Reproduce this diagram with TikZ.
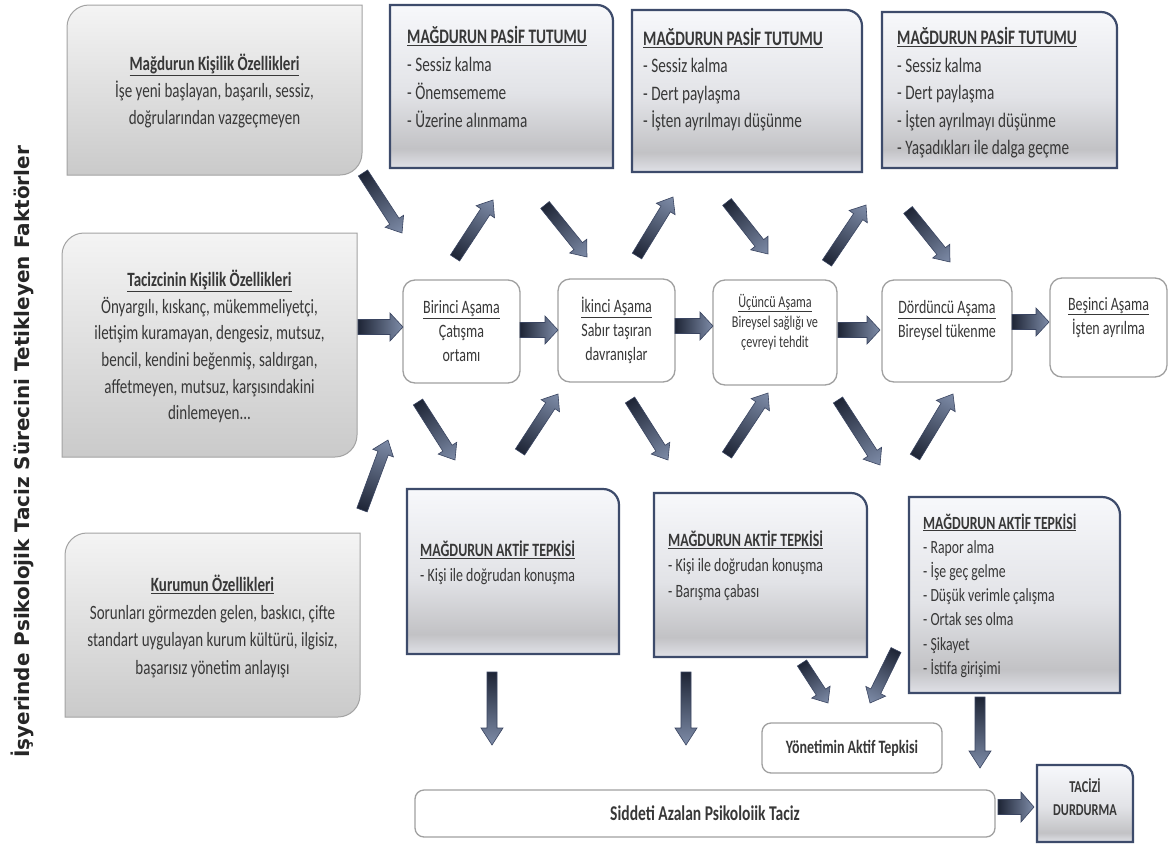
\documentclass[tikz,border=0pt]{standalone}
\usepackage{fontspec}
\setmainfont{Carlito}[FakeStretch=0.74]
\newfontfamily\sidefont{DejaVu Sans}
\usetikzlibrary{calc}

\definecolor{txt}{HTML}{383838}
\definecolor{grayedge}{HTML}{A3A3A3}
\definecolor{graytop}{HTML}{F4F4F4}
\definecolor{graybot}{HTML}{CACACA}
\definecolor{navyedge}{HTML}{3D4B6B}
\definecolor{pantop}{HTML}{F7F8FB}
\definecolor{panmid}{HTML}{E2E3E7}
\definecolor{panband}{HTML}{C2C2C5}
\definecolor{panbot}{HTML}{E0E1E7}
\definecolor{stageedge}{HTML}{A0A0A0}
\definecolor{arrdark}{HTML}{1E2536}
\definecolor{arrlight}{HTML}{7E8CA8}
\definecolor{arredge}{HTML}{3A4561}

% vertical fill of the navy-edged panels: light top, darker band near the bottom
\pgfdeclareverticalshading{panelshade}{100bp}{color(0bp)=(panbot); color(25bp)=(panbot); color(31bp)=(panband); color(48bp)=(panmid); color(75bp)=(pantop); color(100bp)=(pantop)}

% gray card with rounded top-left and bottom-right corners: x1,y1,x2,y2
\newcommand\graycard[4]{%
  \path[shade,top color=graytop,bottom color=graybot,draw=grayedge,line width=1pt]
    (#1,#4) -- (#1,#2+22) arc[start angle=180,end angle=270,radius=22]
    -- (#3,#2) -- (#3,#4-22) arc[start angle=0,end angle=90,radius=22] -- cycle;}

% navy panel with a rounded top-right corner: x1,y1,x2,y2,radius
\newcommand\navypanel[5]{%
  \path[shade,shading=panelshade,draw=navyedge,line width=2.2pt]
    (#1,#4) -- (#1,#2) -- (#3-#5,#2) arc[start angle=-90,end angle=0,radius=#5]
    -- (#3,#4) -- cycle;}

% shaded block arrow between two named coordinates:
% tail, head, shaft half-width, head half-width, head length (pt)
\newcommand\blockarrow[5]{%
  \pgfpointanchor{#1}{center}\pgfgetlastxy\tailx\taily
  \pgfpointanchor{#2}{center}\pgfgetlastxy\headx\heady
  \pgfmathsetmacro\arrang{atan2((\heady)-(\taily),(\headx)-(\tailx))}%
  \pgfmathsetmacro\arrlen{veclen((\headx)-(\tailx),(\heady)-(\taily))}%
  \begin{scope}[transform canvas={shift={(\tailx,\taily)},rotate=\arrang}]
    \path[shade,left color=arrdark,right color=arrlight,draw=arredge,line width=0.6pt]
      (0pt,-#3pt) -- (\arrlen pt-#5pt,-#3pt) -- (\arrlen pt-#5pt,-#4pt)
      -- (\arrlen pt,0pt) -- (\arrlen pt-#5pt,#4pt) -- (\arrlen pt-#5pt,#3pt)
      -- (0pt,#3pt) -- cycle;
  \end{scope}}

\tikzset{
  cardtext/.style={align=center,inner sep=0pt,text=txt,font=\fontsize{20.3}{27}\selectfont},
  paneltext/.style={anchor=west,align=left,inner sep=0pt,text=txt},
  stagebox/.style={draw=stageedge,line width=1.3pt,rounded corners=12pt,fill=white,
    align=center,text=txt,inner sep=0pt,font=\fontsize{18.9}{24}\selectfont},
}

\begin{document}
\begin{tikzpicture}[x=1pt,y=-1pt]
\useasboundingbox (0,0) rectangle (1173,844);
\fill[white] (0,0) rectangle (1173,844);

% side title
\node[rotate=90,text=black!85,font=\sidefont\bfseries\fontsize{20}{22}\selectfont]
  (sidetitle) at (22,452) {İşyerinde Psikolojik Taciz Sürecini Tetikleyen Faktörler};

% factor cards
\graycard{67}{5}{362}{175}
\node[cardtext] (victim) at (214.5,90.5)
  {\textbf{\underline{Mağdurun Kişilik Özellikleri}}\\İşe yeni başlayan, başarılı, sessiz,\\doğrularından vazgeçmeyen};
\graycard{62}{233}{357}{457}
\node[cardtext,font=\fontsize{20.3}{26.6}\selectfont] (bully) at (209.5,346.5)
  {\textbf{\underline{Tacizcinin Kişilik Özellikleri}}\\Önyargılı, kıskanç, mükemmeliyetçi,\\iletişim kuramayan, dengesiz, mutsuz,\\bencil, kendini beğenmiş, saldırgan,\\affetmeyen, mutsuz, karşısındakini\\dinlemeyen...};
\graycard{65}{533}{360}{717}
\node[cardtext,font=\fontsize{20.3}{27.7}\selectfont] (org) at (212.5,626.5)
  {\textbf{\underline{Kurumun Özellikleri}}\\Sorunları görmezden gelen, baskıcı, çifte\\standart uygulayan kurum kültürü, ilgisiz,\\başarısız yönetim anlayışı};

% passive attitude panels
\navypanel{390}{5}{613}{168}{16}
\node[paneltext,font=\fontsize{20.6}{27.7}\selectfont] (pas1) at (407,77)
  {\textbf{\underline{MAĞDURUN PASİF TUTUMU}}\\- Sessiz kalma\\- Önemsememe\\- Üzerine alınmama};
\navypanel{632}{10}{862}{172}{16}
\node[paneltext,font=\fontsize{20.6}{27.3}\selectfont] (pas2) at (643,79.5)
  {\textbf{\underline{MAĞDURUN PASİF TUTUMU}}\\- Sessiz kalma\\- Dert paylaşma\\- İşten ayrılmayı düşünme};
\navypanel{882}{12}{1117}{168}{16}
\node[paneltext,font=\fontsize{20.6}{27.5}\selectfont] (pas3) at (897,93)
  {\textbf{\underline{MAĞDURUN PASİF TUTUMU}}\\- Sessiz kalma\\- Dert paylaşma\\- İşten ayrılmayı düşünme\\- Yaşadıkları ile dalga geçme};

% stages
\node[stagebox,minimum width=117pt,minimum height=103pt] (s1) at (461.5,331.5)
  {\underline{Birinci Aşama}\\Çatışma\\ortamı};
\node[stagebox,minimum width=117pt,minimum height=103pt] (s2) at (616.5,330.5)
  {\underline{İkinci Aşama}\\Sabır taşıran\\davranışlar};
\node[stagebox,minimum width=124pt,minimum height=105pt,font=\fontsize{16.5}{20}\selectfont] (s3) at (775,332.5)
  {\underline{Üçüncü Aşama}\\Bireysel sağlığı ve\\çevreyi tehdit\\[4pt]};
\node[stagebox,minimum width=130pt,minimum height=102pt] (s4) at (947,331)
  {\underline{Dördüncü Aşama}\\Bireysel tükenme\\ };
\node[stagebox,minimum width=117pt,minimum height=99pt] (s5) at (1108.5,327.5)
  {\underline{Beşinci Aşama}\\İşten ayrılma\\ };

% active response panels
\navypanel{407}{489}{619}{654}{16}
\node[paneltext,font=\fontsize{18.8}{25}\selectfont] (act1) at (420,562.5)
  {\textbf{\underline{MAĞDURUN AKTİF TEPKİSİ}}\\- Kişi ile doğrudan konuşma};
\navypanel{654}{493}{867}{657}{16}
\node[paneltext,font=\fontsize{18.8}{25.5}\selectfont] (act2) at (668,565.5)
  {\textbf{\underline{MAĞDURUN AKTİF TEPKİSİ}}\\- Kişi ile doğrudan konuşma\\- Barışma çabası};
\navypanel{909}{497}{1120}{693}{18}
\node[paneltext,font=\fontsize{18.6}{24.2}\selectfont] (act3) at (923,595.5)
  {\textbf{\underline{MAĞDURUN AKTİF TEPKİSİ}}\\- Rapor alma\\- İşe geç gelme\\- Düşük verimle çalışma\\- Ortak ses olma\\- Şikayet\\- İstifa girişimi};

% outcomes
\node[stagebox,minimum width=180pt,minimum height=50pt,rounded corners=9pt,font=\bfseries\fontsize{18.9}{22}\selectfont] (mgmt) at (852,748)
  {Yönetimin Aktif Tepkisi};
\node[stagebox,minimum width=580pt,minimum height=47pt,rounded corners=9pt,font=\bfseries\fontsize{21}{24}\selectfont] (lessened) at (705,813.5)
  {Siddeti Azalan Psikoloiik Taciz};
\navypanel{1037}{765}{1133}{842}{12}
\node[align=center,inner sep=0pt,text=txt,font=\bfseries\fontsize{16.6}{23}\selectfont] (stop) at (1085,797)
  {TACİZİ\\DURDURMA};

% arrow end points
\coordinate (h0a) at (358,327);  \coordinate (h0b) at (403,327);
\coordinate (h1a) at (520,330);  \coordinate (h1b) at (558,330);
\coordinate (h2a) at (675,326);  \coordinate (h2b) at (713,326);
\coordinate (h3a) at (838,330);  \coordinate (h3b) at (880,330);
\coordinate (h4a) at (1012,322); \coordinate (h4b) at (1049,322);
\coordinate (h5a) at (998,807);  \coordinate (h5b) at (1034,807);

\coordinate (d1a) at (363,173);  \coordinate (d1b) at (402,233);
\coordinate (d2a) at (455,258);  \coordinate (d2b) at (493,200);
\coordinate (d3a) at (545,205);  \coordinate (d3b) at (587,257);
\coordinate (d4a) at (637,256);  \coordinate (d4b) at (673,197);
\coordinate (d5a) at (727,202);  \coordinate (d5b) at (768,254);
\coordinate (d6a) at (827,263);  \coordinate (d6b) at (866,205);
\coordinate (d7a) at (908,210);  \coordinate (d7b) at (950,262);

\coordinate (e1a) at (362,510);  \coordinate (e1b) at (388,440);
\coordinate (e2a) at (418,402);  \coordinate (e2b) at (455,460);
\coordinate (e3a) at (520,452);  \coordinate (e3b) at (558,394);
\coordinate (e4a) at (630,400);  \coordinate (e4b) at (668,460);
\coordinate (e5a) at (727,455);  \coordinate (e5b) at (768,393);
\coordinate (e6a) at (838,400);  \coordinate (e6b) at (880,465);
\coordinate (e7a) at (915,457);  \coordinate (e7b) at (953,394);

\coordinate (c1a) at (802,663);  \coordinate (c1b) at (828,703);
\coordinate (c2a) at (896,650);  \coordinate (c2b) at (870,703);
\coordinate (v1a) at (492,672);  \coordinate (v1b) at (492,745);
\coordinate (v2a) at (686,672);  \coordinate (v2b) at (686,745);
\coordinate (v3a) at (980,697);  \coordinate (v3b) at (980,768);

% stage-to-stage arrows
\blockarrow{h0a}{h0b}{7.5}{14}{13}
\blockarrow{h1a}{h1b}{7.5}{14}{13}
\blockarrow{h2a}{h2b}{7.5}{14}{13}
\blockarrow{h3a}{h3b}{7.5}{14}{13}
\blockarrow{h4a}{h4b}{7.5}{14}{13}
\blockarrow{h5a}{h5b}{7.5}{15}{13}

% upper diagonal arrows
\blockarrow{d1a}{d1b}{5.5}{11}{14}
\blockarrow{d2a}{d2b}{5.5}{11}{14}
\blockarrow{d3a}{d3b}{5.5}{11}{14}
\blockarrow{d4a}{d4b}{5.5}{11}{14}
\blockarrow{d5a}{d5b}{5.5}{11}{14}
\blockarrow{d6a}{d6b}{5.5}{11}{14}
\blockarrow{d7a}{d7b}{5.5}{11}{14}

% lower diagonal arrows
\blockarrow{e1a}{e1b}{5.5}{11}{14}
\blockarrow{e2a}{e2b}{5.5}{11}{14}
\blockarrow{e3a}{e3b}{5.5}{11}{14}
\blockarrow{e4a}{e4b}{5.5}{11}{14}
\blockarrow{e5a}{e5b}{5.5}{11}{14}
\blockarrow{e6a}{e6b}{5.5}{11}{14}
\blockarrow{e7a}{e7b}{5.5}{11}{14}

% arrows towards the outcomes
\blockarrow{c1a}{c1b}{5.5}{11}{13}
\blockarrow{c2a}{c2b}{5.5}{11}{13}
\blockarrow{v1a}{v1b}{5}{11}{17}
\blockarrow{v2a}{v2b}{5}{11}{17}
\blockarrow{v3a}{v3b}{5}{11}{17}
\end{tikzpicture}
\end{document}
